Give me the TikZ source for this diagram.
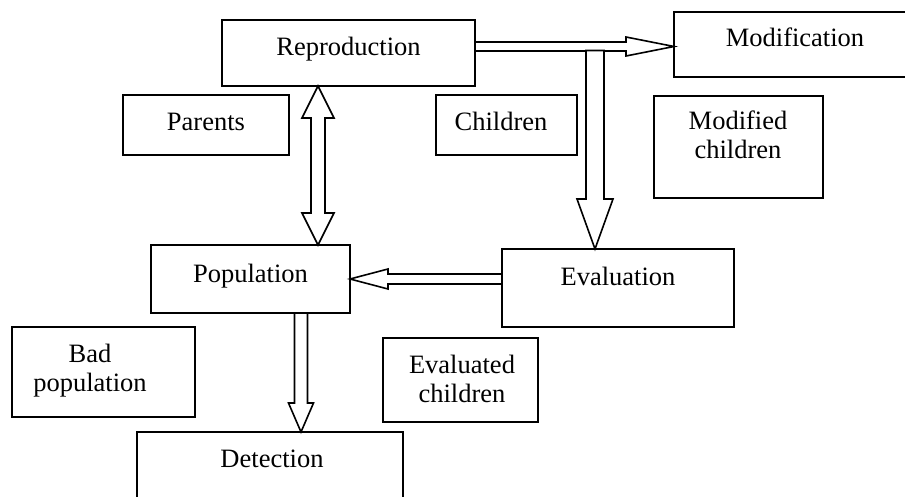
\documentclass[tikz,border=0pt]{standalone}
\usepackage{fontspec}
\setmainfont{Liberation Serif}
\usetikzlibrary{calc}
\tikzset{
  box/.style={draw=black, line width=1.6pt, fill=white, inner sep=0pt, outer sep=0pt},
  lbl/.style={inner sep=0pt, outer sep=0pt, anchor=base, align=center,
              font=\fontsize{26.5}{29}\selectfont},
  blk/.style={draw=black, line width=1.6pt, fill=white, line join=miter}
}
% block arrow: start, tip, shaft half width, head half width, head length
\newcommand\blkarrow[5]{%
  \coordinate (ba-b) at ($(#2)!#5!(#1)$);
  \draw[blk] ($(#1)!#3!90:(#2)$) -- ($(ba-b)!#3!90:(#2)$) -- ($(ba-b)!#4!90:(#2)$)
    -- (#2) -- ($(ba-b)!#4!-90:(#2)$) -- ($(ba-b)!#3!-90:(#2)$)
    -- ($(#1)!#3!-90:(#2)$) -- cycle;}
% double-headed block arrow
\newcommand\dblarrow[5]{%
  \coordinate (da-a) at ($(#1)!#5!(#2)$);
  \coordinate (da-b) at ($(#2)!#5!(#1)$);
  \draw[blk] (#1) -- ($(da-a)!#4!90:(#2)$) -- ($(da-a)!#3!90:(#2)$)
    -- ($(da-b)!#3!90:(#2)$) -- ($(da-b)!#4!90:(#2)$) -- (#2)
    -- ($(da-b)!#4!-90:(#2)$) -- ($(da-b)!#3!-90:(#2)$)
    -- ($(da-a)!#3!-90:(#2)$) -- ($(da-a)!#4!-90:(#2)$) -- cycle;}
\begin{document}
\begin{tikzpicture}[x=1pt,y=-1pt]
\useasboundingbox (0,0) rectangle (905,497);
\clip (0,0) rectangle (905,497);
% boxes
\node[box, minimum width=253pt, minimum height=66pt]  (repro)  at (348.5,53)  {};
\node[box, minimum width=236pt, minimum height=65pt]  (modif)  at (792,44.5)  {};
\node[box, minimum width=169pt, minimum height=102pt] (modch)  at (738.5,147) {};
\node[box, minimum width=166pt, minimum height=60pt]  (parents) at (206,125)  {};
\node[box, minimum width=141pt, minimum height=60pt]  (children) at (506.5,125) {};
\node[box, minimum width=199pt, minimum height=68pt]  (pop)    at (250.5,279) {};
\node[box, minimum width=232pt, minimum height=78pt]  (eval)   at (618,288)   {};
\node[box, minimum width=183pt, minimum height=90pt]  (bad)    at (103.5,372) {};
\node[box, minimum width=155pt, minimum height=84pt]  (evch)   at (460.5,380) {};
\node[box, minimum width=266pt, minimum height=100pt] (det)    at (270,482)   {};
% labels (base = baseline of the last line)
\node[lbl] (repro-t)    at (348.5,56) {Reproduction};
\node[lbl] (modif-t)    at (795,47)   {Modification};
\node[lbl] (modch-t)    at (738,159)  {Modified\\children};
\node[lbl] (parents-t)  at (206,131)  {Parents};
\node[lbl] (children-t) at (501,131)  {Children};
\node[lbl] (pop-t)      at (250.5,282) {Population};
\node[lbl] (eval-t)     at (618,285)  {Evaluation};
\node[lbl] (bad-t)      at (90,391)   {Bad\\population};
\node[lbl] (evch-t)     at (462,402)  {Evaluated\\children};
\node[lbl] (det-t)      at (272,467)  {Detection};
% arrow end points
\coordinate (a1s) at ($(repro.east)+(0,-6.5)$);
\coordinate (a1t) at (modif.west |- a1s);
\coordinate (a2x) at (595,50.5);
\coordinate (a2t) at (a2x |- eval.north);
\coordinate (a3x) at (318,0);
\coordinate (a3a) at (a3x |- repro.south);
\coordinate (a3b) at (a3x |- pop.north);
\coordinate (a4s) at (eval.west |- pop.east);
\coordinate (a5x) at (301,0);
\coordinate (a5s) at (a5x |- pop.south);
\coordinate (a5t) at (a5x |- det.north);
% connectors
\blkarrow{a1s}{a1t}{4.5pt}{9.5pt}{48pt}
\blkarrow{a2x}{a2t}{9pt}{18pt}{50pt}
\dblarrow{a3a}{a3b}{7pt}{16pt}{32pt}
\blkarrow{a4s}{pop.east}{5pt}{10pt}{38pt}
\blkarrow{a5s}{a5t}{6.5pt}{12.5pt}{29pt}
\end{tikzpicture}
\end{document}
